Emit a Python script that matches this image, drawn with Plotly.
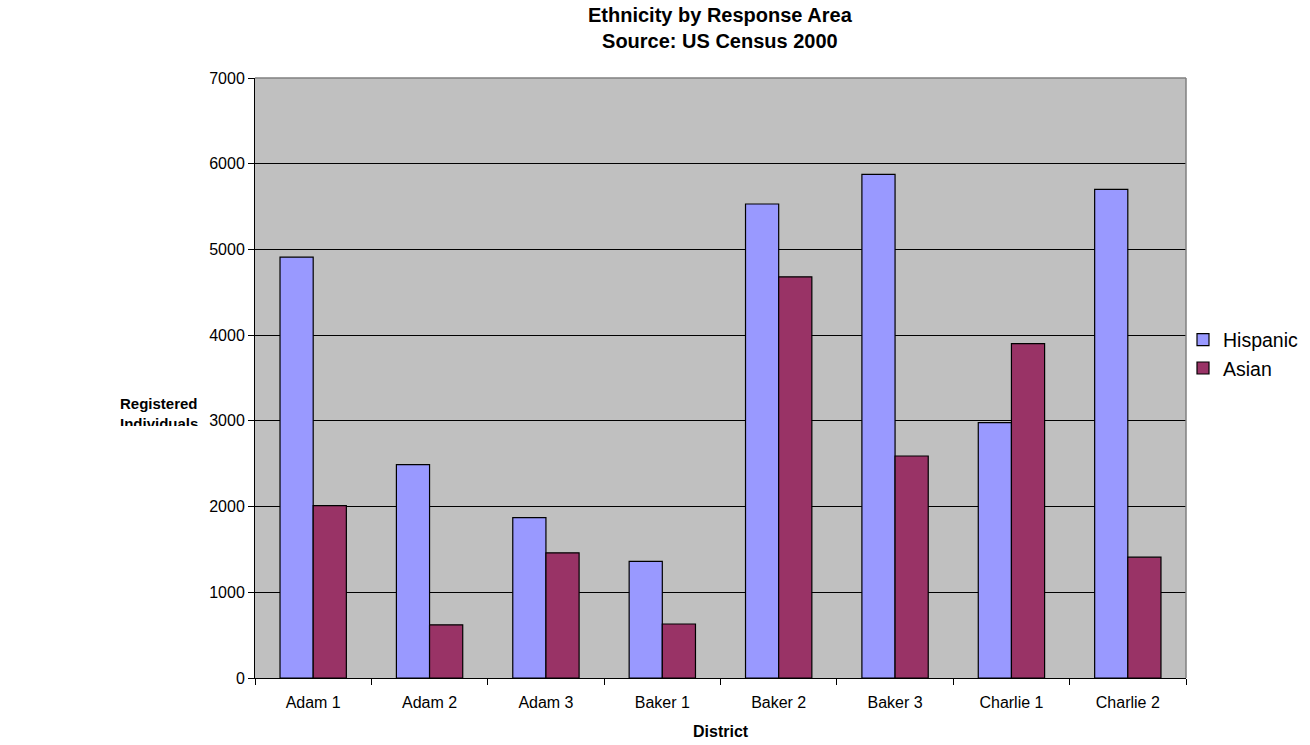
import plotly.graph_objects as go

districts = ["Adam 1", "Adam 2", "Adam 3", "Baker 1", "Baker 2", "Baker 3", "Charlie 1", "Charlie 2"]
hispanic = [4910, 2490, 1870, 1360, 5530, 5875, 2980, 5700]
asian = [2010, 620, 1460, 630, 4680, 2590, 3900, 1410]
y_ticks = [0, 1000, 2000, 3000, 4000, 5000, 6000, 7000]

W, H = 1310, 745
L, R, T, B = 255, 1186, 78, 678
pw, ph = R - L, B - T

fig = go.Figure()
fig.add_trace(go.Bar(x=districts, y=hispanic, name="Hispanic",
                     marker=dict(color="#9999FF", line=dict(color="black", width=1.2))))
fig.add_trace(go.Bar(x=districts, y=asian, name="Asian",
                     marker=dict(color="#993366", line=dict(color="black", width=1.2))))

font_family = "Liberation Sans, Arial, sans-serif"

fig.update_layout(
    width=W, height=H,
    margin=dict(l=L, r=W - R, t=T, b=H - B, pad=0, autoexpand=False),
    paper_bgcolor="white",
    plot_bgcolor="#C0C0C0",
    barmode="group",
    bargap=0.43,
    bargroupgap=0,
    font=dict(family=font_family, color="black"),
    showlegend=True,
    legend=dict(x=(1183 - L) / pw, xanchor="left", y=(B - 354) / ph, yanchor="middle",
                font=dict(size=19.5, family=font_family), bgcolor="rgba(0,0,0,0)",
                tracegroupgap=0, itemwidth=30),
    xaxis=dict(showgrid=False, showline=True, linecolor="black", linewidth=1,
               ticks="outside", ticklen=6, tickcolor="black", tickson="boundaries",
               tickfont=dict(size=16), ticklabelstandoff=10, fixedrange=True),
    yaxis=dict(range=[0, 7000], tickvals=y_ticks, showgrid=True, gridcolor="black", gridwidth=1,
               showline=True, linecolor="black", linewidth=1, ticks="outside", ticklen=6,
               tickcolor="black", tickfont=dict(size=16), zeroline=False, fixedrange=True),
    hovermode=False,
)

# gray plot-area border top/right
fig.add_shape(type="line", xref="paper", yref="paper", x0=0, x1=1, y0=1, y1=1,
              line=dict(color="#808080", width=1.5), layer="above")
fig.add_shape(type="line", xref="paper", yref="paper", x0=1, x1=1, y0=0, y1=1,
              line=dict(color="#808080", width=1.5), layer="above")

fig.add_annotation(text="<b>Ethnicity by Response Area<br>Source: US Census 2000</b>",
                   xref="paper", yref="paper",
                   x=0.5, y=1 + (T - 28.5) / ph, yanchor="middle", xanchor="center",
                   showarrow=False, font=dict(size=20, family=font_family))
fig.add_annotation(text="<b>District</b>", xref="paper", yref="paper",
                   x=0.5, y=-(731 - B) / ph, yanchor="middle", xanchor="center",
                   showarrow=False, font=dict(size=16, family=font_family))
fig.add_annotation(text="<b>Registered<br>Individuals</b>", xref="paper", yref="paper",
                   x=-(L - 118) / pw, xanchor="left", y=(B - 393) / ph, yanchor="top",
                   height=31, valign="top", align="left",
                   showarrow=False, font=dict(size=15, family=font_family))

fig.write_html("out.html")
